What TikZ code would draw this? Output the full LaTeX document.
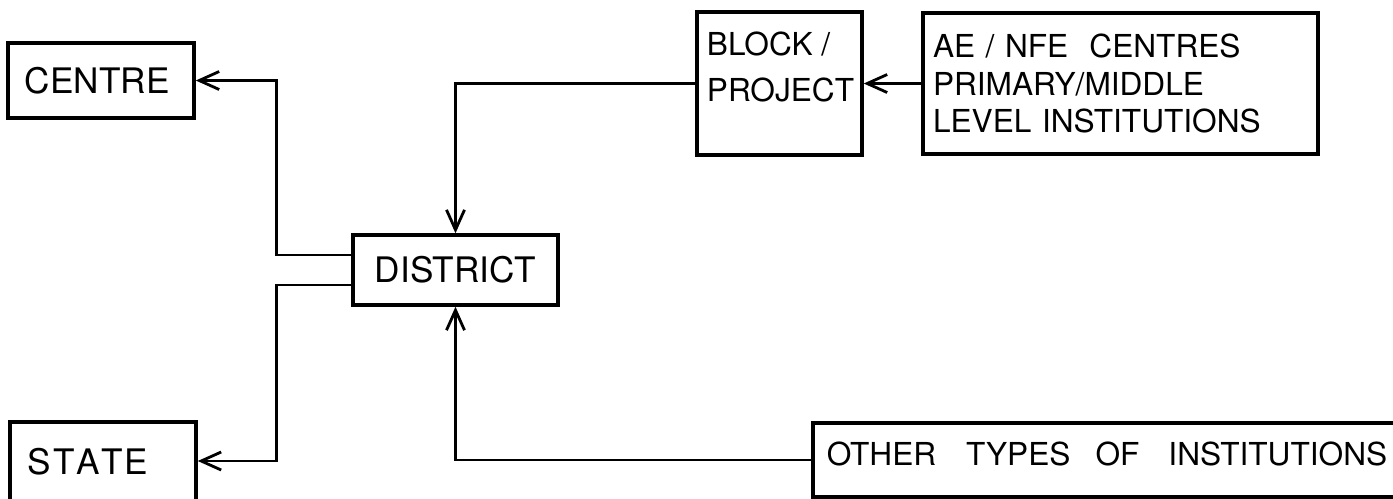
\documentclass[tikz,border=0pt]{standalone}
\usepackage{fontspec}
\setsansfont{TeX Gyre Heros}
\usetikzlibrary{arrows.meta}

\begin{document}
\begin{tikzpicture}[box/.style={draw,line width=1pt,inner ysep=0pt,font=\sffamily\fontsize{10}{12}\selectfont},
  smallbox/.style={draw,line width=1pt,inner ysep=0pt,font=\sffamily\fontsize{9}{10.7}\selectfont},
  link/.style={line width=0.8pt,-{Straight Barb[length=2mm,width=1.8mm]}}]
  \clip (0,0) rectangle (13.93,4.98);
  \fill[white] (0,0) rectangle (13.93,4.98);
  % left hand side
  \node[box,text width=1.52cm,inner xsep=0.17cm,align=left,minimum height=0.75cm] (centre) at (1.01,4.175) {CENTRE};
  \node[box,text width=1.50cm,inner xsep=0.18cm,align=left,minimum height=0.84cm,text depth=0.06cm] (state) at (1.03,0.34)
    {S\kern.5pt T\kern.5pt A\kern.5pt T\kern.5pt E};
  \node[box,minimum width=2.05cm,minimum height=0.70cm] (district) at (4.555,2.28) {DISTRICT};
  % right hand side
  \node[draw,line width=1pt,minimum width=1.65cm,minimum height=1.43cm] (block) at (7.795,4.145) {};
  \node[anchor=north west,inner sep=0pt,align=left,font=\sffamily\fontsize{9}{13}\selectfont] (blocktext)
    at ([shift={(0.11,-0.21)}]block.north west) {BLOCK /\\PROJECT};
  \node[smallbox,text width=3.75cm,inner xsep=0.1cm,align=left,minimum height=1.41cm] (ae) at (11.205,4.145)
    {AE / NFE\ \ CENTRES\\PRIMARY/MIDDLE\\LEVEL INSTITUTIONS};
  \node[smallbox,anchor=west,text width=6.3cm,inner xsep=0.14cm,text depth=0.12cm,align=left,minimum height=0.74cm] (other) at (8.11,0.38)
    {OTHER\hspace{3mm}TYPES\hspace{2.5mm}OF\hspace{2.9mm}INSTITUTIONS};
  % connectors
  \draw[link] ([yshift=1.5mm]district.west) -- ++(-0.75,0) |- (centre.east);
  \draw[link] ([yshift=-1.5mm]district.west) -- ++(-0.75,0) |- ([yshift=0.03cm]state.east);
  \draw[link] (block.west) -| (district.north);
  \draw[link] (ae.west) -- (ae.west -| block.east);
  \draw[link] (other.west) -| (district.south);
\end{tikzpicture}
\end{document}
